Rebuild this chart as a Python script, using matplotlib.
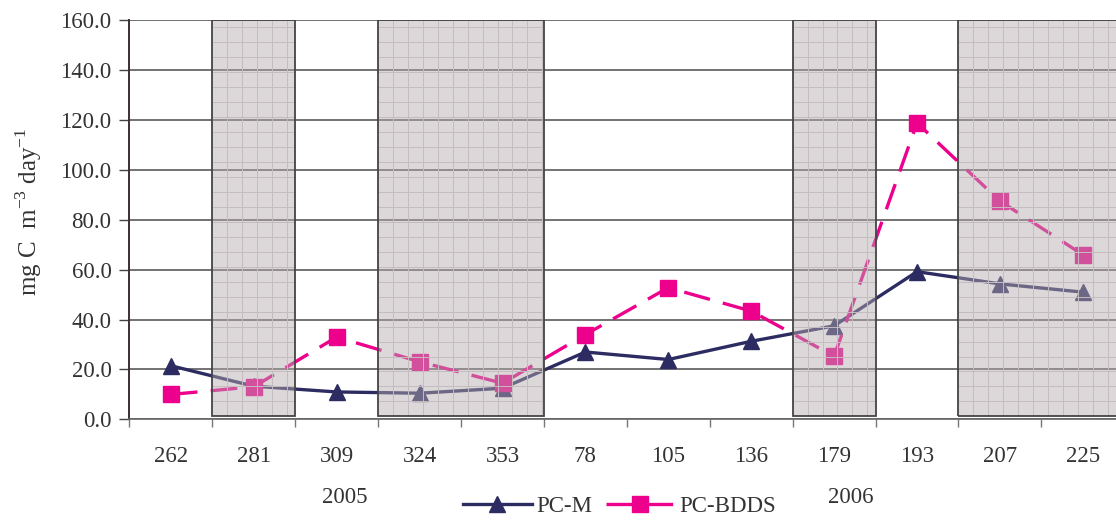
import numpy as np
import matplotlib.pyplot as plt

plt.rcParams['font.family'] = ['Liberation Serif', 'DejaVu Serif']

# sampling days (day of year), 2005 then 2006
days = ['262', '281', '309', '324', '353', '78', '105', '136', '179', '193', '207', '225']
pc_m = [21.5, 13.3, 11.0, 10.5, 12.5, 27.0, 24.0, 31.3, 37.5, 59.2, 54.3, 51.0]
pc_bdds = [10.0, 13.1, 33.0, 23.1, 14.5, 34.0, 52.8, 43.4, 25.3, 118.8, 87.5, 66.0]

# shaded periods: first category index and number of categories covered
shade_start = [1, 3, 8, 10]
shade_len = [1, 2, 1, 2]
years = ['2005', '2006']
year_pos = [2.1, 8.2]

navy = '#2c2c62'
pink = '#ec008c'

fig = plt.figure(figsize=(11.16, 5.21), dpi=100)
ax = fig.add_axes([0.116, 0.195, 0.8914, 0.7664])

x = np.arange(len(days))

ax.plot(x, pc_m, color=navy, lw=2.4, marker='^', ms=11, zorder=2, label='PC-M')
ax.plot(x, pc_bdds, color=pink, lw=2.4, marker='s', ms=11, zorder=2,
        dashes=(8, 4), label='PC-BDDS')

# translucent shaded periods drawn over the lines
left = np.array(shade_start) - 0.5
ax.bar(left, 158.8, bottom=1.2, width=shade_len, align='edge', color='#b5aaad',
       alpha=0.47, linewidth=0, zorder=3)
# fine grid texture inside the shaded periods
for l, w in zip(left, shade_len):
    xs = np.arange(l + 0.18, l + w, 0.18)
    ax.vlines(xs, 1.2, 160, color='#c4bcbe', lw=0.7, zorder=3.05)
    ys = np.arange(1.2 + 6, 160, 6.0)
    ax.hlines(ys, l, l + w, color='#c4bcbe', lw=0.7, zorder=3.05)
ax.bar(left, 158.8, bottom=1.2, width=shade_len, align='edge', fill=False,
       edgecolor='#444444', linewidth=1.3, zorder=3.1)

ax.set_xlim(-0.5, len(days) - 0.5)
ax.set_ylim(0, 160)
ax.set_yticks(np.arange(0, 161, 20))
ax.set_yticklabels([f'{v:.1f}' for v in np.arange(0, 161, 20)])

ax.set_xticks(np.arange(len(days) + 1) - 0.5)
ax.set_xticklabels([])
ax.set_xticks(x, minor=True)
ax.set_xticklabels(days, minor=True)
ax.tick_params(axis='x', which='minor', length=0, pad=19, labelsize=16.5, colors='#333333')
ax.tick_params(axis='x', which='major', length=6, width=1, color='#777777')
ax.tick_params(axis='y', length=7, width=1, color='#444444', labelsize=16.5,
               labelcolor='#333333', pad=6)

ax.set_axisbelow(True)
ax.yaxis.grid(True, color='#5a5a5a', lw=1.2)

for s in ['top', 'right']:
    ax.spines[s].set_visible(False)
ax.spines['left'].set_color('#3a3030')
ax.spines['left'].set_linewidth(1.4)
ax.spines['bottom'].set_color('#666666')
ax.spines['bottom'].set_linewidth(1.2)

ax.set_ylabel('mg C  m$^{\\mathregular{-3}}$ day$^{\\mathregular{-1}}$', fontsize=18,
              color='#333333')
ax.yaxis.set_label_coords(-0.086, 0.52)

for yr, xp in zip(years, year_pos):
    ax.text(xp, -0.195, yr, transform=ax.get_xaxis_transform(), ha='center', va='center',
            fontsize=16.5, color='#333333')

fig.legend(loc='center', bbox_to_anchor=(0.555, 0.027), ncol=2, frameon=False,
           fontsize=16.5, handlelength=3.0, handletextpad=0.2, columnspacing=0.6,
           labelcolor='#333333')

fig.savefig('out.png', dpi=100)
